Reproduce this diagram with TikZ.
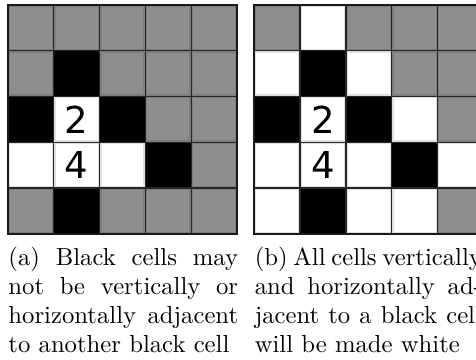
\documentclass[tikz,border=0pt]{standalone}
\usepackage{fontspec}
\newfontfamily\digitfont{DejaVu Sans}
\definecolor{gy}{RGB}{142,142,142}
\colorlet{bk}{black}
\colorlet{wt}{white}

\begin{document}
\begin{tikzpicture}[x=0.405pt, y=-0.405pt,
		cell/.style={draw=black!85, line width=0.55pt, minimum size=18.55pt, inner sep=0pt, outer sep=0pt,
			path picture={\draw[black, opacity=0.12, line width=1.6pt] (path picture bounding box.south west) rectangle (path picture bounding box.north east);}},
		digit/.style={inner sep=0pt, font=\digitfont\fontsize{15}{15}\selectfont},
		capline/.style={anchor=base west, inner sep=0pt, font=\fontsize{10}{12}\selectfont},
		frame/.style={draw=black!90, line width=0.9pt}]
		\useasboundingbox (0,0) rectangle (476,360);
		\clip (0,0) rectangle (476,360);
		\foreach \r/\list in {0/{gy,gy,gy,gy,gy}, 1/{gy,bk,gy,gy,gy}, 2/{bk,wt,bk,gy,gy}, 3/{wt,wt,wt,bk,gy}, 4/{gy,bk,gy,gy,gy}}
			\foreach \c [count=\j from 0] in \list
				\node[cell, fill=\c] (a-\r-\j) at (8+45.8*\j+22.9, 4.8+45.8*\r+22.9) {};
		\foreach \r/\list in {0/{gy,wt,gy,gy,gy}, 1/{wt,bk,wt,gy,gy}, 2/{bk,wt,bk,wt,gy}, 3/{wt,wt,wt,bk,wt}, 4/{wt,bk,wt,wt,gy}}
			\foreach \c [count=\j from 0] in \list
				\node[cell, fill=\c] (b-\r-\j) at (254.3+45.8*\j+22.9, 4.8+45.8*\r+22.9) {};
		\draw[frame] (a-0-0.north west) rectangle (a-4-4.south east);
		\draw[frame] (b-0-0.north west) rectangle (b-4-4.south east);
		\node[digit] (twoa) at (a-2-1) {2};
		\node[digit] (foura) at (a-3-1) {4};
		\node[digit] (twob) at (b-2-1) {2};
		\node[digit] (fourb) at (b-3-1) {4};
		\node[capline] (capa1) at (8,265.5) {\makebox[93pt][s]{(a) Black cells may}};
		\node[capline] (capa2) at (8,294.5) {\makebox[93pt][s]{not be vertically or}};
		\node[capline] (capa3) at (8,323.5) {\makebox[93pt][s]{horizontally adjacent}};
		\node[capline] (capa4) at (8,352.5) {to another black cell};
		\node[capline] (capb1) at (254.3,265.5) {\makebox[92pt][s]{(b) All cells vertically}};
		\node[capline] (capb2) at (254.3,294.5) {\makebox[92pt][s]{and horizontally ad-}};
		\node[capline] (capb3) at (254.3,323.5) {\makebox[92pt][s]{jacent to a black cell}};
		\node[capline] (capb4) at (254.3,352.5) {will be made white};
	\end{tikzpicture}
\end{document}
